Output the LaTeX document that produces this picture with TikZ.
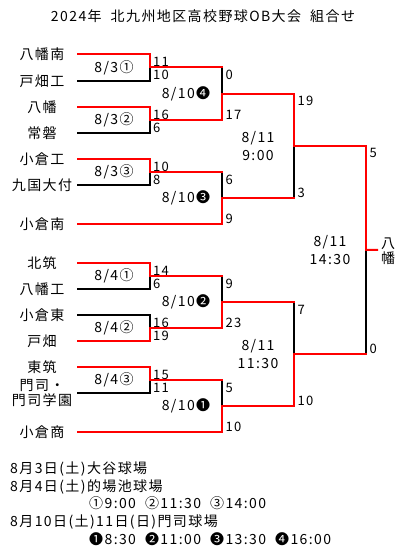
\documentclass[tikz,border=0pt]{standalone}
\usepackage{fontspec}
\setmainfont{Noto Sans CJK JP}[LetterSpace=10, WordSpace=2]
\usepackage{tikz}
\usetikzlibrary{positioning,calc}
\definecolor{winred}{RGB}{255,0,0}

\begin{document}
\begin{tikzpicture}[x=1pt, y=-1pt,
  team/.style={font=\fontsize{14}{15}\selectfont, align=center, inner sep=0pt},
  date/.style={font=\fontsize{14}{18}\selectfont, align=center, inner sep=0pt},
  score/.style={font=\fontsize{13}{14}\selectfont, anchor=west, inner sep=0pt},
  note/.style={font=\fontsize{14}{16}\selectfont, anchor=west, inner sep=0pt},
  win/.style={draw=winred, line width=2pt, line cap=rect},
  lose/.style={draw=black, line width=2pt, line cap=rect},
]
\path[use as bounding box, fill=white] (0,0) rectangle (408,559);

\node[font=\fontsize{14}{16}\selectfont] (title) at (203,16) {2024年 北九州地区高校野球OB大会 組合せ};

\foreach \i/\y/\name in {1/54/八幡南, 2/81/戸畑工, 3/107/八幡, 4/133/常磐,
    5/159/小倉工, 6/185/九国大付, 7/224/小倉南, 8/263/北筑, 9/289/八幡工,
    10/315/小倉東, 11/341/戸畑, 12/367/東筑, 13/393/{門司・\\門司学園}, 14/432/小倉商}{
  \node[team] (t\i) at (42,\y) {\name};
  \coordinate (ln\i) at (78,\y);
}

\foreach \m/\x/\ya/\yb in {m1/150/54/81, m2/150/107/133, m3/150/159/185,
    m4/150/263/289, m5/150/315/341, m6/150/367/393,
    q4/222/67.5/120, q3/222/172/224, q2/222/276/328, q1/222/380/432,
    s1/294/93.75/198, s2/294/302/406, f/366/145.875/354}{
  \coordinate (\m-t) at (\x,\ya);
  \coordinate (\m-b) at (\x,\yb);
  \coordinate (\m-m) at (\x,{(\ya+\yb)/2});
}
\coordinate (champ-in) at (377,249.94);

\foreach \i/\m/\c in {1/m1-t/win, 2/m1-b/lose, 3/m2-t/win, 4/m2-b/lose,
    5/m3-t/win, 6/m3-b/lose, 7/q3-b/win, 8/m4-t/win, 9/m4-b/lose,
    10/m5-t/lose, 11/m5-b/win, 12/m6-t/win, 13/m6-b/lose, 14/q1-b/win}
  \draw[\c] (ln\i) -- (\m);

\foreach \m/\tc/\bc in {m1/win/lose, m2/win/lose, m3/win/lose, m4/win/lose,
    m5/lose/win, m6/win/lose, q4/lose/win, q3/lose/win, q2/lose/win,
    q1/lose/win, s1/win/lose, s2/lose/win, f/win/lose}{
  \draw[\tc] (\m-t) -- (\m-m);
  \draw[\bc] (\m-m) -- (\m-b);
}

\foreach \a/\b in {m1-m/q4-t, m2-m/q4-b, m3-m/q3-t, m4-m/q2-t, m5-m/q2-b,
    m6-m/q1-t, q4-m/s1-t, q3-m/s1-b, q2-m/s2-t, q1-m/s2-b,
    s1-m/f-t, s2-m/f-b, f-m/champ-in}
  \draw[win] (\a) -- (\b);

\foreach \m/\a/\b in {m1/11/10, m2/16/6, m3/10/8, m4/14/6, m5/16/19, m6/15/11}{
  \node[score] (\m-sa) at ($(\m-m)+(3,-5.5)$) {\a};
  \node[score] (\m-sb) at ($(\m-m)+(3,7.5)$) {\b};
}
\foreach \m/\a/\b in {q4/0/17, q3/6/9, q2/9/23, q1/5/10, s1/19/3, s2/7/10, f/5/0}{
  \node[score] (\m-sa) at ($(\m-t)+(3.5,7.5)$) {\a};
  \node[score] (\m-sb) at ($(\m-b)+(3.5,-5.5)$) {\b};
}

\foreach \m/\txt in {m1/{8/3①}, m2/{8/3②}, m3/{8/3③}, m4/{8/4①}, m5/{8/4②},
    m6/{8/4③}, q4/{8/10❹}, q3/{8/10❸}, q2/{8/10❷}, q1/{8/10❶},
    s1/{8/11\\9:00}, s2/{8/11\\11:30}, f/{8/11\\14:30}}
  \node[date] (d-\m) at ($(\m-m)+(-36,0)$) {\txt};

\node[team] (champ) at (388,251.5) {八\\幡};

\node[note] (n1) at (10,469) {8月3日(土)大谷球場};
\node[note] (n2) at (10,486.7) {8月4日(土)的場池球場};
\node[note] (n3) at (89,503) {①9:00 ②11:30 ③14:00};
\node[note] (n4) at (10,521.7) {8月10日(土)11日(日)門司球場};
\node[note] (n5) at (89,539.3) {❶8:30 ❷11:00 ❸13:30 ❹16:00};

\end{tikzpicture}
\end{document}
